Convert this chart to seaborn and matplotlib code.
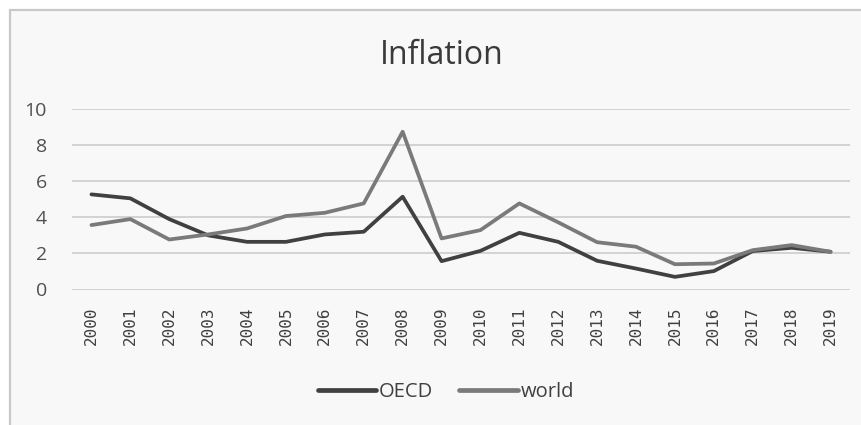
import matplotlib
matplotlib.use("Agg")
import matplotlib.pyplot as plt
from matplotlib.patches import Rectangle
import seaborn as sns
import pandas as pd

years = [str(y) for y in range(2000, 2020)]
oecd = [5.27, 5.05, 3.9, 3.0, 2.64, 2.64, 3.05, 3.2, 5.14, 1.57,
        2.14, 3.14, 2.64, 1.59, 1.16, 0.70, 1.02, 2.13, 2.31, 2.09]
world = [3.57, 3.9, 2.77, 3.05, 3.38, 4.07, 4.25, 4.77, 8.74, 2.83,
         3.29, 4.77, 3.72, 2.62, 2.37, 1.40, 1.44, 2.18, 2.46, 2.09]
series_names = ["OECD", "world"]
colors = ["#404040", "#7a7a7a"]
yticks = [0, 2, 4, 6, 8, 10]

df = pd.DataFrame({
    "year": years * 2,
    "value": oecd + world,
    "series": [series_names[0]] * len(years) + [series_names[1]] * len(years),
})

sns.set_theme(style="white")
plt.rcParams["font.family"] = ["Open Sans", "DejaVu Sans"]

W, H = 861, 425
fig = plt.figure(figsize=(W / 100, H / 100), dpi=100, facecolor="white")
fig.patches.append(Rectangle((9.5 / W, -0.05), 2, (H - 10) / H + 0.05,
                             transform=fig.transFigure, facecolor="#f8f8f8",
                             edgecolor="#c8c8c8", linewidth=1.6, zorder=-10))

ax = fig.add_axes([72 / W, 1 - 289.5 / H, (850 - 72) / W, (289.5 - 109) / H])
ax.set_facecolor("none")

sns.lineplot(data=df, x="year", y="value", hue="series", palette=colors,
             linewidth=2.7, ax=ax, sort=False)

ax.set_xlim(-0.5, len(years) - 0.5)
ax.set_ylim(0, 10)
ax.set_yticks(yticks)
ax.set_yticklabels([str(t) for t in yticks], fontsize=14, color="#505050")
ax.set_xticks(range(len(years)))
ax.set_xticklabels(years, rotation=90, fontsize=11.5, color="#404040",
                   family=["DejaVu Sans Mono"])
ax.tick_params(axis="y", length=0, pad=18)
ax.tick_params(axis="x", length=0, pad=12)
ax.grid(axis="y", color="#d0d0d0", linewidth=1.3)
ax.set_axisbelow(True)
for s in ax.spines.values():
    s.set_visible(False)
ax.set_xlabel("")
ax.set_ylabel("")

fig.text(0.513, 1 - 55 / H, "Inflation", ha="center", va="center",
         fontsize=23, color="#3a3a3a")

leg = ax.legend(loc="center", bbox_to_anchor=(0.518, 1 - 392 / H),
                bbox_transform=fig.transFigure, ncol=2, frameon=False,
                handlelength=2.9, handletextpad=0.15, columnspacing=1.3,
                prop={"size": 14.5})
for t in leg.get_texts():
    t.set_color("#404040")
for h in leg.get_lines():
    h.set_linewidth(3.4)

fig.savefig("out.png", dpi=100, facecolor="white")
